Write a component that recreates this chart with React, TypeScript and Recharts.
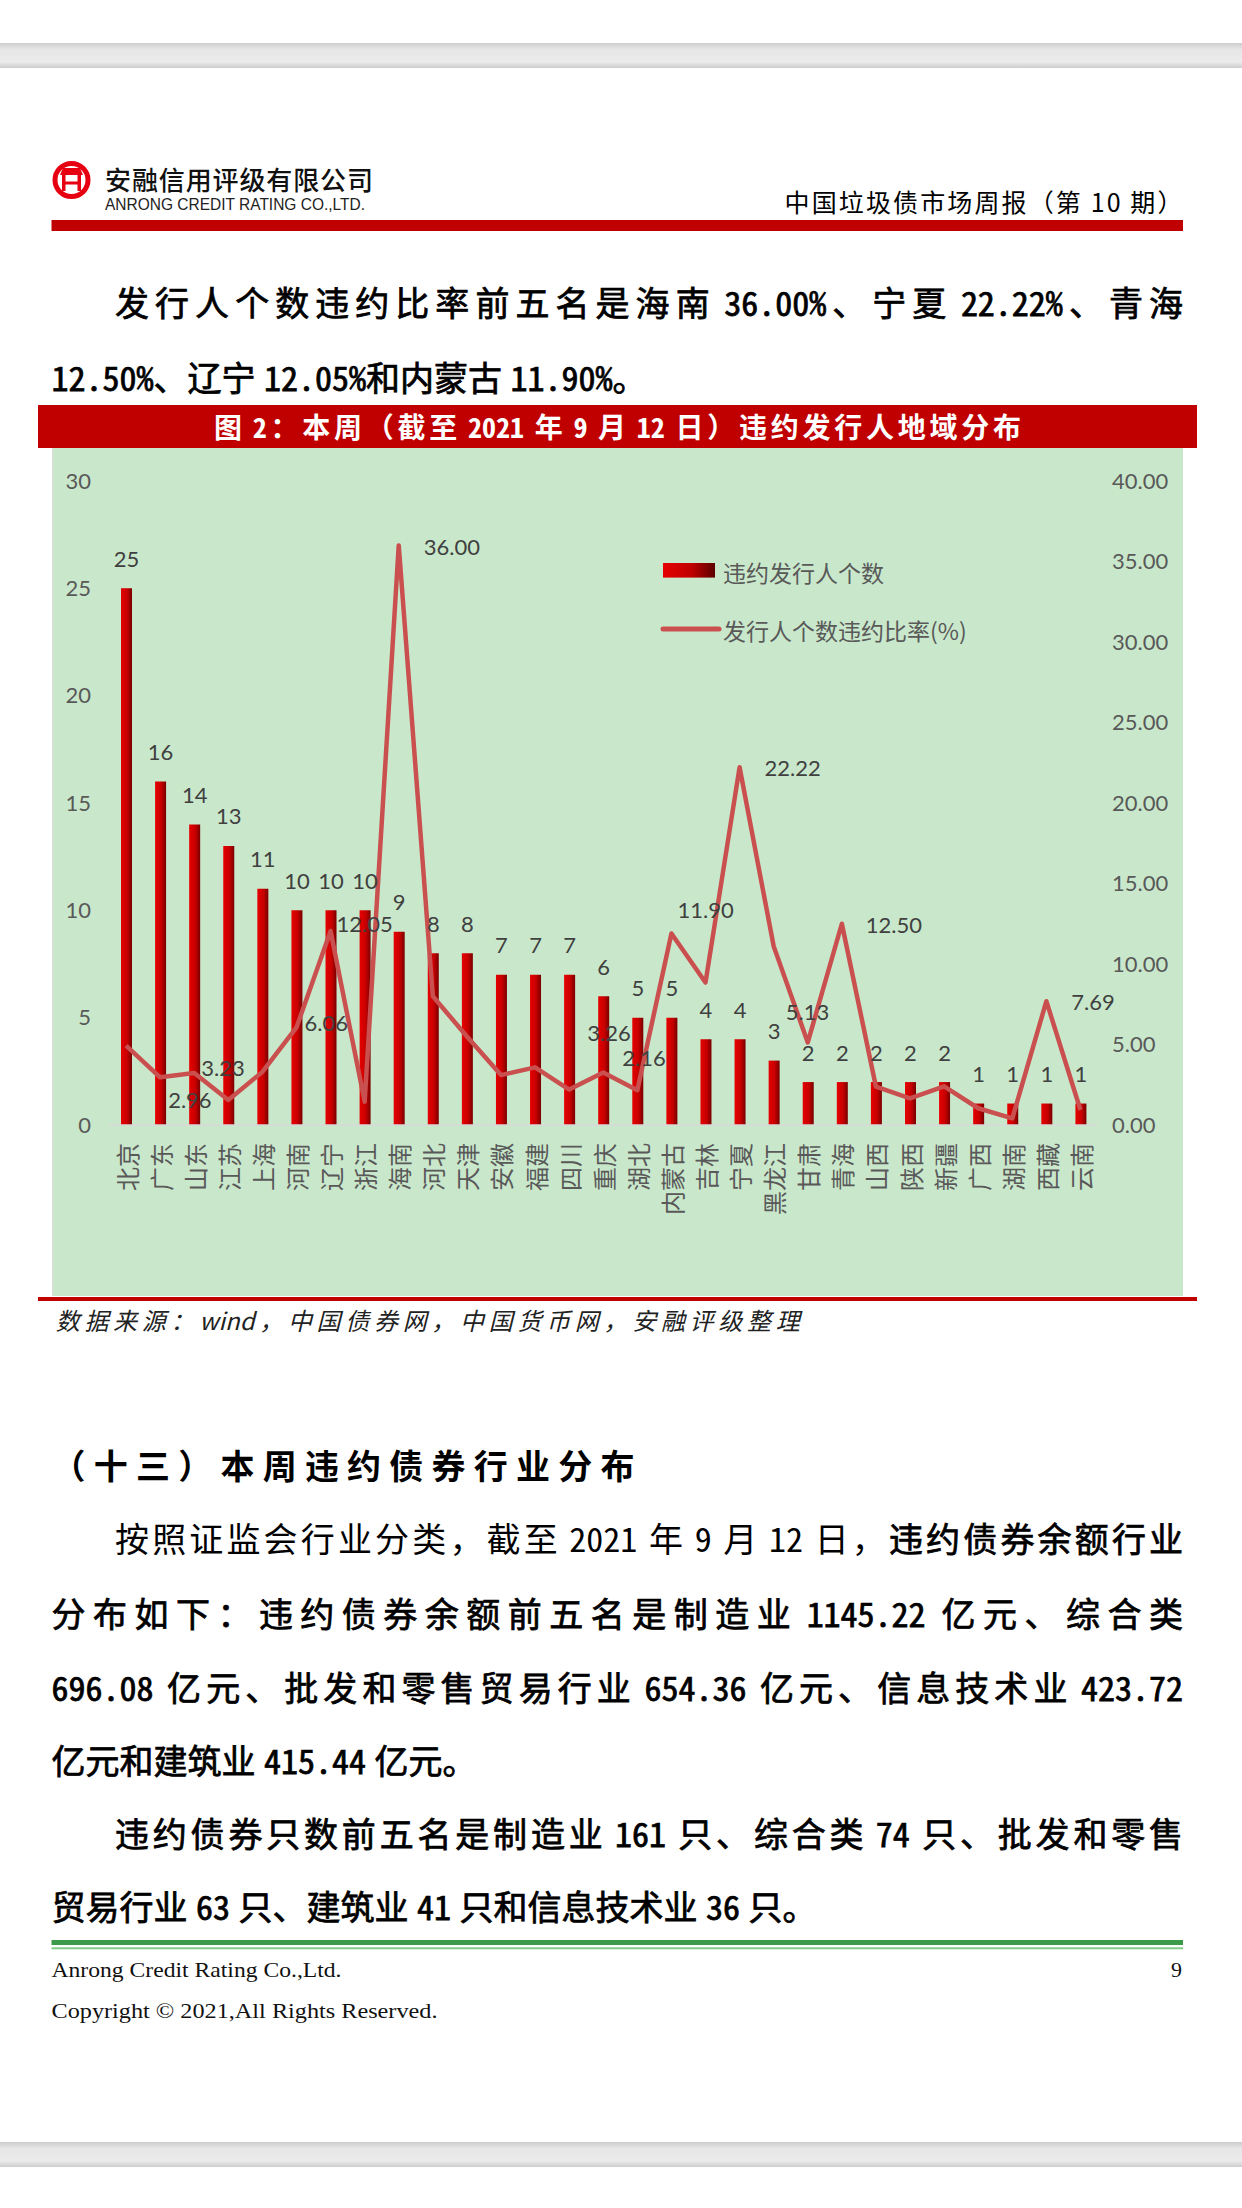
import React from "react";
import {
    Bar,
    ComposedChart,
    LabelList,
    Legend,
    Line,
    XAxis,
    YAxis
} from "recharts";

const provinces = [
    "北京", "广东", "山东", "江苏", "上海", "河南", "辽宁", "浙江", "海南", "河北",
    "天津", "安徽", "福建", "四川", "重庆", "湖北", "内蒙古", "吉林", "宁夏", "黑龙江",
    "甘肃", "青海", "山西", "陕西", "新疆", "广西", "湖南", "西藏", "云南",
];
const defaultCounts = [
    25, 16, 14, 13, 11, 10, 10, 10, 9, 8,
    8, 7, 7, 7, 6, 5, 5, 4, 4, 3,
    2, 2, 2, 2, 2, 1, 1, 1, 1,
];
const defaultRates = [
    4.93, 2.96, 3.23, 1.55, 3.30, 6.06, 12.05, 1.45, 36.00, 8.00,
    5.50, 3.10, 3.58, 2.20, 3.26, 2.16, 11.90, 8.85, 22.22, 11.10,
    5.13, 12.50, 2.38, 1.66, 2.40, 1.04, 0.41, 7.69, 0.93,
];
const labelledRates = ["广东", "山东", "河南", "辽宁", "海南", "重庆", "湖北", "内蒙古", "宁夏", "甘肃", "青海", "西藏"];
const countTicks = [0, 5, 10, 15, 20, 25, 30];
const rateTicks = [0, 5, 10, 15, 20, 25, 30, 35, 40];

const barName = "违约发行人个数";
const lineName = "发行人个数违约比率(%)";

// where the excel data labels sit relative to their point (dx, dy)
const rateLabelOffset: Record<string, [number, number]> = {
    "广东": [8, 22],
    "山东": [7, -5],
    "河南": [8, -5],
    "辽宁": [6, -7],
    "海南": [25, 1],
    "重庆": [-16, -40],
    "湖北": [-15, -33],
    "内蒙古": [6, -24],
    "宁夏": [25, 0],
    "甘肃": [-22, -31],
    "青海": [24, 1],
    "西藏": [25, 0],
};

const data = provinces.map((province, i) => ({
    province,
    count: defaultCounts[i],
    rate: defaultRates[i],
}));

const cjk = "'Noto Sans CJK SC', 'Noto Sans', sans-serif";
const num = "Lato, 'Noto Sans', sans-serif";

const ProvinceTick = (props: any) => {
    const { x, y, payload } = props;
    return (
        <text
            x={x}
            y={y}
            transform={`rotate(-90 ${x} ${y})`}
            textAnchor="end"
            dominantBaseline="central"
            fill="#595959"
            fontSize={24}
            fontFamily={cjk}
        >
            {payload.value}
        </text>
    );
};

const CountLabel = (props: any) => {
    const { x, y, width, value } = props;
    return (
        <text
            x={x + width / 2}
            y={y - 30}
            textAnchor="middle"
            dominantBaseline="central"
            fill="#404040"
            fontSize={22}
            fontFamily={num}
        >
            {value}
        </text>
    );
};

const RateLabel = (props: any) => {
    const { x, y, value } = props;
    if (!labelledRates.includes(value)) return null;
    const rate = defaultRates[provinces.indexOf(value)];
    const [dx, dy] = rateLabelOffset[value];
    return (
        <text
            x={x + dx}
            y={y + dy}
            textAnchor="start"
            dominantBaseline="central"
            fill="#404040"
            fontSize={22}
            fontFamily={num}
        >
            {rate.toFixed(2)}
        </text>
    );
};

const renderLegend = () => (
    <svg width={420} height={110} style={{ display: "block" }}>
        <defs>
            <linearGradient id="legendGrad" x1="0" y1="0" x2="1" y2="0">
                <stop offset="0%" stopColor="#e60000" />
                <stop offset="55%" stopColor="#c00000" />
                <stop offset="100%" stopColor="#5c0000" />
            </linearGradient>
        </defs>
        <rect x={6} y={15} width={52} height={14.6} fill="url(#legendGrad)" />
        <text x={66} y={23.7} dominantBaseline="central" fill="#595959" fontSize={23} fontFamily={cjk}>
            {barName}
        </text>
        <line x1={6} y1={81} x2={62} y2={81} stroke="#c9504f" strokeWidth={5} strokeLinecap="round" />
        <text x={66} y={82} dominantBaseline="central" fill="#595959" fontSize={23} fontFamily={cjk}>
            {lineName}
        </text>
    </svg>
);

// digits get half-width forms and spaces become narrow fixed spaces,
// so justification mostly spreads the chinese characters (like the word file)
const mixed = (text: string) =>
    text.replace(/ /g, "\u2005").split(/([0-9.%]+)/).map((part, i) =>
        i % 2 === 1 ? (
            <span key={i} style={{ fontFeatureSettings: '"hwid"' }}>{part}</span>
        ) : (
            <React.Fragment key={i}>{part}</React.Fragment>
        )
    );

// one line of running text; full lines are justified like the word document
function TextLine(props: {
    cy: number; left: number; width: number; justify?: boolean; size?: number;
    color?: string; italic?: boolean; children: React.ReactNode;
}) {
    const { cy, left, width, justify, size = 34, color = "#000", italic, children } = props;
    return (
        <div
            style={{
                position: "absolute",
                left,
                top: cy - size * 0.83,
                width,
                height: size * 1.6,
                lineHeight: `${size * 1.6}px`,
                fontSize: size,
                fontFamily: cjk,
                color,
                fontStyle: italic ? "italic" : "normal",
                textAlign: justify ? "justify" : "left",
                textAlignLast: justify ? "justify" : "auto",
                whiteSpace: "pre",
            }}
        >
            {children}
        </div>
    );
}

const B = ({ text }: { text: string }) => (
    <span style={{ WebkitTextStroke: "0.75px #000" }}>{mixed(text)}</span>
);

function Page() {
    return (
        <svg width={1242} height={2208} style={{ position: "absolute", left: 0, top: 0 }}>
            <defs>
                <linearGradient id="strip" x1="0" y1="0" x2="0" y2="1">
                    <stop offset="0%" stopColor="#cdcdcd" />
                    <stop offset="25%" stopColor="#e6e6e6" />
                    <stop offset="75%" stopColor="#ebebeb" />
                    <stop offset="100%" stopColor="#cdcdcd" />
                </linearGradient>
            </defs>
            <rect x={0} y={43} width={1242} height={25} fill="url(#strip)" />
            <rect x={0} y={2142} width={1242} height={25} fill="url(#strip)" />

            {/* logo */}
            <circle cx={71.5} cy={180} r={16.5} fill="#fff" stroke="#e60012" strokeWidth={5} />
            <path d="M63 168 L80 168 L83 175 L60 175 Z" fill="#e60012" />
            <rect x={62} y={175} width={3.5} height={16} fill="#e60012" />
            <rect x={77.5} y={175} width={3.5} height={16} fill="#e60012" />
            <rect x={62} y={181.5} width={19} height={3} fill="#e60012" />
            <text x={105} y={178} dominantBaseline="central" fontFamily={cjk} fontSize={26} fontWeight={500}
                fill="#111" textLength={268} lengthAdjust="spacing">安融信用评级有限公司</text>
            <text x={105} y={204.5} dominantBaseline="central" fontFamily="'Liberation Sans', Arial, sans-serif"
                fontSize={17} fill="#222" textLength={260} lengthAdjust="spacingAndGlyphs">ANRONG CREDIT RATING CO.,LTD.</text>
            <text x={784.5} y={200.5} dominantBaseline="central" fontFamily={cjk} fontSize={25} fill="#000"
                textLength={398} lengthAdjust="spacing">中国垃圾债市场周报（第 10 期）</text>
            <rect x={51.5} y={220} width={1131.5} height={11} fill="#c00000" />

            {/* chart title bar */}
            <rect x={38} y={405} width={1159} height={43} fill="#c00000" />
            <rect x={38} y={1297} width={1159} height={4} fill="#c00000" />

            <text x={51.5} y={1464.6} dominantBaseline="central" fontFamily={cjk} fontSize={34} fontWeight={700}
                fill="#000" textLength={583} lengthAdjust="spacing">（十三）本周违约债券行业分布</text>

            <rect x={51.5} y={1940} width={1131.5} height={5} fill="#3c9b48" />
            <rect x={51.5} y={1947.3} width={1131.5} height={2} fill="#80cc88" />
            <text x={51.5} y={1969} dominantBaseline="central" fontFamily="'Liberation Serif', serif" fontSize={22}
                fill="#111" textLength={290} lengthAdjust="spacingAndGlyphs">Anrong Credit Rating Co.,Ltd.</text>
            <text x={1182} y={1969} dominantBaseline="central" textAnchor="end" fontFamily="'Liberation Serif', serif"
                fontSize={22} fill="#111">9</text>
            <text x={51.5} y={2010} dominantBaseline="central" fontFamily="'Liberation Serif', serif" fontSize={22}
                fill="#111" textLength={386} lengthAdjust="spacingAndGlyphs">Copyright © 2021,All Rights Reserved.</text>
        </svg>
    );
}

export default function App() {
    return (
        <div style={{ position: "absolute", left: 0, top: 0, width: 1242, height: 2208, background: "#fff", overflow: "hidden" }}>
            <Page />

            <TextLine cy={303} left={115} width={1068} justify>
                <B text="发行人个数违约比率前五名是海南 36.00%、宁夏 22.22%、青海" />
            </TextLine>
            <TextLine cy={378} left={51.5} width={1131.5}>
                <B text="12.50%、辽宁 12.05%和内蒙古 11.90%。" />
            </TextLine>

            <div
                style={{
                    position: "absolute",
                    left: 214,
                    top: 405,
                    width: 807,
                    height: 43,
                    lineHeight: "43px",
                    fontSize: 28,
                    fontWeight: 700,
                    fontFamily: cjk,
                    color: "#fff",
                    textAlign: "justify",
                    textAlignLast: "justify",
                    whiteSpace: "pre",
                }}
            >
                {mixed("图 2：本周（截至 2021 年 9 月 12 日）违约发行人地域分布")}
            </div>

            <TextLine cy={1321} left={55.7} width={744} size={24} color="#222" italic justify>
                数据来源：wind，中国债券网，中国货币网，安融评级整理
            </TextLine>

            <TextLine cy={1539.6} left={115} width={1068} justify>
                {mixed("按照证监会行业分类，截至 2021 年 9 月 12 日，")}<B text="违约债券余额行业" />
            </TextLine>
            <TextLine cy={1614.6} left={51.5} width={1131.5} justify>
                <B text="分布如下：违约债券余额前五名是制造业 1145.22 亿元、综合类" />
            </TextLine>
            <TextLine cy={1688} left={51.5} width={1131.5} justify>
                <B text="696.08 亿元、批发和零售贸易行业 654.36 亿元、信息技术业 423.72" />
            </TextLine>
            <TextLine cy={1761} left={51.5} width={1131.5}>
                <B text="亿元和建筑业 415.44 亿元。" />
            </TextLine>
            <TextLine cy={1834} left={115} width={1068} justify>
                <B text="违约债券只数前五名是制造业 161 只、综合类 74 只、批发和零售" />
            </TextLine>
            <TextLine cy={1907.5} left={51.5} width={1131.5}>
                <B text="贸易行业 63 只、建筑业 41 只和信息技术业 36 只。" />
            </TextLine>

            <div
                style={{
                    position: "absolute",
                    left: 52,
                    top: 448,
                    width: 1131,
                    height: 848,
                    background: "#c9e8cb",
                    borderLeft: "1px solid #dcdcdc",
                    boxSizing: "border-box",
                }}
            />
            <div style={{ position: "absolute", left: 52, top: 448, width: 1131, height: 848 }}>
                <ComposedChart
                    width={1131}
                    height={848}
                    data={data}
                    margin={{ top: 33, right: 0, left: 0, bottom: 0 }}
                >
                    <defs>
                        <linearGradient id="barGrad" x1="0" y1="0" x2="1" y2="0">
                            <stop offset="0%" stopColor="#e60000" />
                            <stop offset="55%" stopColor="#c80000" />
                            <stop offset="100%" stopColor="#780000" />
                        </linearGradient>
                    </defs>
                    <XAxis
                        dataKey="province"
                        interval={0}
                        height={171}
                        tickLine={false}
                        axisLine={{ stroke: "#d9d9d9", strokeWidth: 1.5 }}
                        tickMargin={12}
                        tick={<ProvinceTick />}
                    />
                    <YAxis
                        yAxisId="left"
                        width={57}
                        domain={[0, 30]}
                        ticks={countTicks}
                        tickLine={false}
                        axisLine={false}
                        tickMargin={12}
                        tick={{ fill: "#595959", fontSize: 22, fontFamily: num }}
                    />
                    <YAxis
                        yAxisId="right"
                        orientation="right"
                        width={85.5}
                        domain={[0, 40]}
                        ticks={rateTicks}
                        tickLine={false}
                        axisLine={false}
                        tickMargin={8.5}
                        tickFormatter={(v: number) => v.toFixed(2)}
                        tick={{ fill: "#595959", fontSize: 22, fontFamily: num }}
                    />
                    <Legend
                        layout="vertical"
                        align="center"
                        verticalAlign="middle"
                        wrapperStyle={{ left: 605, top: 100, width: 420, height: 110 }}
                        content={renderLegend}
                    />
                    <Bar
                        yAxisId="left"
                        dataKey="count"
                        name={barName}
                        barSize={11}
                        fill="url(#barGrad)"
                        isAnimationActive={false}
                    >
                        <LabelList dataKey="count" content={<CountLabel />} />
                    </Bar>
                    <Line
                        yAxisId="right"
                        type="linear"
                        dataKey="rate"
                        name={lineName}
                        stroke="#c9504f"
                        strokeWidth={4.5}
                        strokeLinejoin="round"
                        dot={false}
                        activeDot={false}
                        isAnimationActive={false}
                    >
                        <LabelList dataKey="province" content={<RateLabel />} />
                    </Line>
                </ComposedChart>
            </div>
        </div>
    );
}
